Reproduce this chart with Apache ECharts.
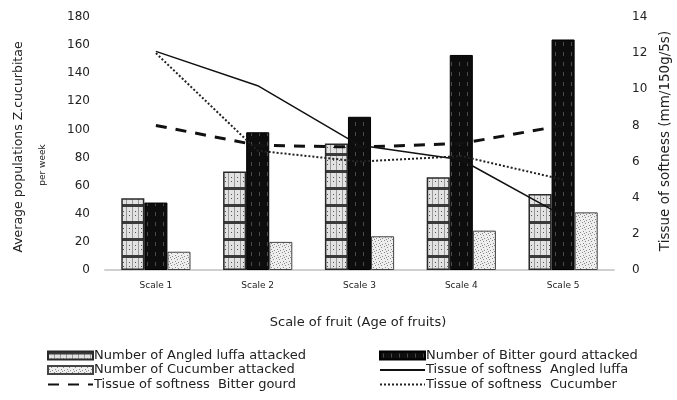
<!DOCTYPE html>
<html>
<head>
<meta charset="utf-8">
<script src="https://cdn.jsdelivr.net/npm/echarts@6/dist/echarts.min.js"></script>
<style>html,body{margin:0;padding:0;background:#fff}#c{width:677px;height:400px}</style>
</head>
<body>
<div id="c"></div>
<script>
var categories = ['Scale 1', 'Scale 2', 'Scale 3', 'Scale 4', 'Scale 5'];
var luffaAttacked = [51, 70, 90, 66, 54];
var bitterAttacked = [48, 98, 109, 153, 164];
var cucumberAttacked = [13, 20, 24, 28, 41];
var softLuffa = [12.1, 10.2, 6.9, 6.1, 3.0];
var softBitter = [8.0, 6.9, 6.8, 7.0, 8.0];
var softCucumber = [12.0, 6.6, 6.0, 6.3, 5.0];
var leftTicks = {min: 0, max: 180, interval: 20};
var rightTicks = {min: 0, max: 14, interval: 2};

function pattern(kind) {
  var c = document.createElement('canvas');
  var g = c.getContext('2d');
  if (kind === 'luffa') {
    c.width = 6; c.height = 17;
    g.fillStyle = '#e2e2e2'; g.fillRect(0, 0, 6, 17);
    g.fillStyle = '#3a3a3a'; g.fillRect(0, 0, 6, 3);
    g.fillStyle = '#9a9a9a'; g.fillRect(0, 3, 1, 14);
    g.fillStyle = '#555'; g.fillRect(3, 7, 1, 1); g.fillRect(3, 11, 1, 1);
  } else if (kind === 'bitter') {
    c.width = 8; c.height = 10;
    g.fillStyle = '#0d0d0d'; g.fillRect(0, 0, 8, 10);
    g.fillStyle = '#4a4a4a'; g.fillRect(3, 2, 1, 4);
  } else {
    c.width = 6; c.height = 6;
    g.fillStyle = '#eeeeee'; g.fillRect(0, 0, 6, 6);
    g.fillStyle = '#8a8a8a';
    g.fillRect(0, 0, 1, 1); g.fillRect(3, 1, 1, 1); g.fillRect(1, 3, 1, 1); g.fillRect(4, 4, 1, 1); g.fillRect(2, 5, 1, 1);
  }
  return {image: c, repeat: 'repeat'};
}

var chart = echarts.init(document.getElementById('c'));
var txt = '#222';
var font = 'DejaVu Sans';
var legendText = {fontSize: 13, color: txt, fontFamily: font, padding: [0, 0, 0, -4]};
chart.setOption({
  animation: false,
  backgroundColor: '#fff',
  textStyle: {fontFamily: font, color: txt},
  grid: {left: 105, right: 63, top: 17, bottom: 130},
  xAxis: {
    type: 'category', data: categories,
    axisLine: {show: true, lineStyle: {color: '#d0d0d0', width: 2}},
    axisTick: {show: false},
    axisLabel: {fontSize: 9, color: txt, margin: 11, fontFamily: font}
  },
  yAxis: [
    {type: 'value', min: leftTicks.min, max: leftTicks.max, interval: leftTicks.interval,
     splitLine: {show: false}, axisLine: {show: false}, axisTick: {show: false},
     axisLabel: {fontSize: 12, color: txt, margin: 15, fontFamily: font}},
    {type: 'value', min: rightTicks.min, max: rightTicks.max, interval: rightTicks.interval,
     splitLine: {show: false}, axisLine: {show: false}, axisTick: {show: false},
     axisLabel: {fontSize: 12, color: txt, margin: 18, fontFamily: font}}
  ],
  legend: [
    {orient: 'vertical', left: 42, top: 344, itemWidth: 45, itemHeight: 8, itemGap: 1.5,
     textStyle: legendText,
     data: [{name: 'Number of Angled luffa attacked', icon: 'rect'},
            {name: 'Number of Cucumber attacked', icon: 'rect'},
            'Tissue of softness  Bitter gourd']},
    {orient: 'vertical', left: 374, top: 344, itemWidth: 45, itemHeight: 8, itemGap: 1.5,
     textStyle: legendText,
     data: [{name: 'Number of Bitter gourd attacked', icon: 'rect'},
            'Tissue of softness  Angled luffa', 'Tissue of softness  Cucumber']}
  ],
  graphic: [
    {type: 'text', x: 19, y: 147, rotation: Math.PI / 2,
     style: {text: 'Average populations Z.cucurbitae', fontSize: 12.5,
             fontFamily: font, fill: txt, align: 'center', verticalAlign: 'middle'}},
    {type: 'text', x: 43, y: 165, rotation: Math.PI / 2,
     style: {text: 'per week', fontSize: 9,
             fontFamily: font, fill: txt, align: 'center', verticalAlign: 'middle'}},
    {type: 'text', x: 665, y: 141, rotation: Math.PI / 2,
     style: {text: 'Tissue of softness (mm/150g/5s)', fontSize: 13.5,
             fontFamily: font, fill: txt, align: 'center', verticalAlign: 'middle'}},
    {type: 'text', x: 358, y: 323,
     style: {text: 'Scale of fruit (Age of fruits)', fontSize: 13,
             fontFamily: font, fill: txt, align: 'center', verticalAlign: 'middle'}}
  ],
  series: [
    {name: 'Number of Angled luffa attacked', type: 'bar', data: luffaAttacked, yAxisIndex: 0,
     barGap: '0%', barCategoryGap: '32%',
     itemStyle: {color: pattern('luffa'), borderColor: '#2a2a2a', borderWidth: 1.5}},
    {name: 'Number of Bitter gourd attacked', type: 'bar', data: bitterAttacked, yAxisIndex: 0,
     itemStyle: {color: pattern('bitter'), borderColor: '#000', borderWidth: 1}},
    {name: 'Number of Cucumber attacked', type: 'bar', data: cucumberAttacked, yAxisIndex: 0,
     itemStyle: {color: pattern('cucumber'), borderColor: '#444', borderWidth: 1}},
    {name: 'Tissue of softness  Angled luffa', type: 'line', data: softLuffa, yAxisIndex: 1,
     symbol: 'none', lineStyle: {color: '#111', width: 1.5, type: 'solid'}, itemStyle: {color: '#111', opacity: 0}, z: 5},
    {name: 'Tissue of softness  Bitter gourd', type: 'line', data: softBitter, yAxisIndex: 1,
     symbol: 'none', lineStyle: {color: '#111', width: 3, type: [11, 9]}, itemStyle: {color: '#111', opacity: 0}, z: 5},
    {name: 'Tissue of softness  Cucumber', type: 'line', data: softCucumber, yAxisIndex: 1,
     symbol: 'none', lineStyle: {color: '#222', width: 2, type: [2, 2]}, itemStyle: {color: '#222', opacity: 0}, z: 5}
  ]
});
</script>
</body>
</html>
